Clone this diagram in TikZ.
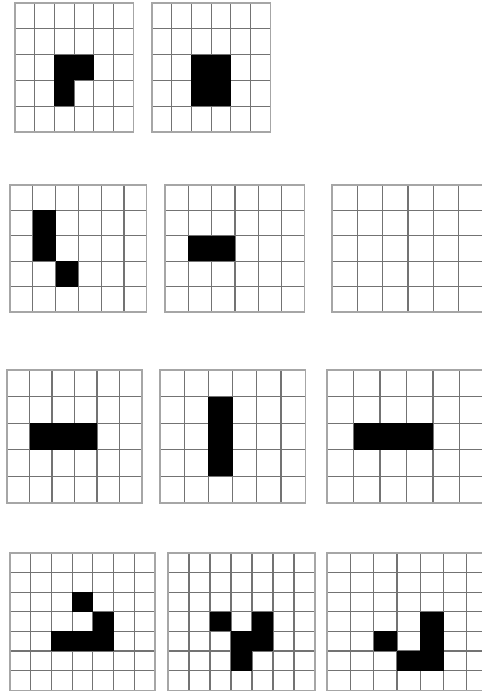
\documentclass[tikz,border=0pt]{standalone}
\tikzset{
  gl/.style={draw=black!55, line width=1.2pt},
  gout/.style={draw=black!35, line width=1.2pt},
  blk/.style={fill=black}
}
\newcommand\cell[2]{\fill[blk] (#1,#2) rectangle ++(1,1);}
% x0 y0 cellw cellh ncols nrows cells
\newcommand\pixgrid[7]{%
  \begin{scope}[shift={(#1,#2)},x=#3pt,y=-#4pt]
    \foreach \i in {1,...,\numexpr#5-1\relax} \draw[gl] (\i,0) -- (\i,#6);
    \foreach \j in {1,...,\numexpr#6-1\relax} \draw[gl] (0,\j) -- (#5,\j);
    \draw[gout] (0,0) rectangle (#5,#6);
    #7
  \end{scope}}
\begin{document}
\begin{tikzpicture}[x=1pt,y=-1pt]
\useasboundingbox (0,0) rectangle (482,694);
\clip (0,0) rectangle (482,694);
% row 1
\pixgrid{15}{3}{19.7}{25.8}{6}{5}{\cell{2}{2}\cell{3}{2}\cell{2}{3}}
\pixgrid{152}{3}{19.7}{25.8}{6}{5}{\cell{2}{2}\cell{3}{2}\cell{2}{3}\cell{3}{3}}
% row 2
\pixgrid{10}{185}{22.8}{25.4}{6}{5}{\cell{1}{1}\cell{1}{2}\cell{2}{3}}
\pixgrid{165}{185}{23.3}{25.4}{6}{5}{\cell{1}{2}\cell{2}{2}}
\pixgrid{332}{185}{25.3}{25.4}{6}{5}{}
% row 3
\pixgrid{7}{370}{22.5}{26.6}{6}{5}{\cell{1}{2}\cell{2}{2}\cell{3}{2}}
\pixgrid{160}{370}{24.2}{26.6}{6}{5}{\cell{2}{1}\cell{2}{2}\cell{2}{3}}
\pixgrid{327}{370}{26.5}{26.6}{6}{5}{\cell{1}{2}\cell{2}{2}\cell{3}{2}}
% row 4
\pixgrid{10}{553}{20.7}{19.6}{7}{7}{\cell{3}{2}\cell{4}{3}\cell{2}{4}\cell{3}{4}\cell{4}{4}}
\pixgrid{168}{553}{21}{19.6}{7}{7}{\cell{2}{3}\cell{4}{3}\cell{3}{4}\cell{4}{4}\cell{3}{5}}
\pixgrid{327}{553}{23.3}{19.6}{7}{7}{\cell{4}{3}\cell{4}{4}\cell{4}{5}\cell{3}{5}\cell{2}{4}}
\end{tikzpicture}
\end{document}
